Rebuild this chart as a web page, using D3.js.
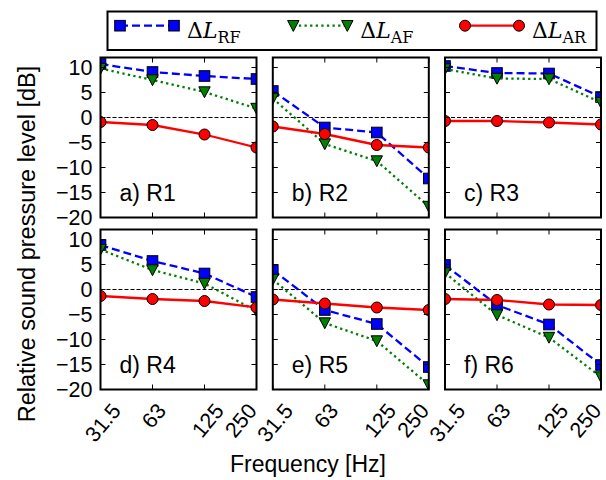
<!DOCTYPE html>
<html lang="en">
<head>
  <meta charset="UTF-8" />
  <title>Relative sound pressure level</title>
  <script src="https://d3js.org/d3.v7.min.js"></script>
  <style>
    body { margin: 0; background: #ffffff; }
    svg { display: block; font-family: 'Liberation Sans', Arial, sans-serif; }
  </style>
</head>
<body>
<div id="chart"></div>
<script>
// values
const freqs = ["31.5", "63", "125", "250"];
const panelLabels = ["a) R1", "b) R2", "c) R3", "d) R4", "e) R5", "f) R6"];
const yTicks = [-20, -15, -10, -5, 0, 5, 10];

const rfValues = [
  [10.7, 9.1, 8.3, 7.7],
  [5.3, -2.0, -3.0, -12.2],
  [10.3, 8.9, 8.8, 4.1],
  [8.9, 5.7, 3.2, -1.5],
  [3.9, -4.1, -6.9, -15.5],
  [4.9, -3.1, -7.0, -15.1]
];
const afValues = [
  [9.8, 7.5, 5.1, 1.8],
  [3.8, -5.3, -8.7, -17.8],
  [9.7, 7.8, 7.7, 3.0],
  [8.0, 3.9, 1.2, -4.3],
  [2.0, -6.7, -10.3, -19.1],
  [3.3, -5.1, -9.6, -17.5]
];
const arValues = [
  [-0.9, -1.5, -3.4, -6.0],
  [-1.8, -3.3, -5.5, -6.0],
  [-0.7, -0.7, -1.0, -1.4],
  [-1.3, -1.9, -2.3, -3.6],
  [-2.0, -2.8, -3.6, -4.1],
  [-1.9, -2.1, -3.0, -3.1]
];

const series = [
  { key: "RF", values: rfValues, color: "#0000ff", dash: "8,4", marker: "square" },
  { key: "AF", values: afValues, color: "#007f00", dash: "2.3,3.3", marker: "tri" },
  { key: "AR", values: arValues, color: "#ff0000", dash: null, marker: "circle" }
];

const W = 606, H = 480;
const colLeft = [100.5, 272.8, 445];
const rowTop = [57.5, 229.5];
const pw = 156, ph = 160;
const tickFont = 21.5, labelFont = 23;
// the last tick label sits a bit left of its tick in the reference
const tickShift = { "31.5": 2, "63": 1, "125": 3, "250": -16 };

const svg = d3.select("#chart").append("svg")
  .attr("width", W).attr("height", H);

const defs = svg.append("defs");

function drawMarker(g, type, x, y, color) {
  if (type === "square") {
    g.append("rect").attr("x", x - 5.3).attr("y", y - 5.3)
      .attr("width", 10.6).attr("height", 10.6)
      .attr("fill", color).attr("stroke", "#000").attr("stroke-width", 1);
  } else if (type === "tri") {
    g.append("path")
      .attr("d", `M${x - 5.7},${y - 5.2}L${x + 5.7},${y - 5.2}L${x},${y + 5.7}Z`)
      .attr("fill", color).attr("stroke", "#000").attr("stroke-width", 1);
  } else {
    g.append("circle").attr("cx", x).attr("cy", y).attr("r", 5.5)
      .attr("fill", color).attr("stroke", "#000").attr("stroke-width", 1);
  }
}

panelLabels.forEach((label, i) => {
  const row = Math.floor(i / 3), col = i % 3;
  const x0 = colLeft[col], y0 = rowTop[row];

  const x = d3.scalePoint().domain(freqs).range([x0, x0 + pw]).padding(0);
  const y = d3.scaleLinear().domain([-20, 12]).range([y0 + ph, y0]);

  const g = svg.append("g");

  defs.append("clipPath").attr("id", "clip" + i)
    .append("rect").attr("x", x0).attr("y", y0).attr("width", pw).attr("height", ph);

  const plot = g.append("g").attr("clip-path", `url(#clip${i})`);

  // zero reference line
  plot.append("line")
    .attr("x1", x0).attr("x2", x0 + pw)
    .attr("y1", y(0)).attr("y2", y(0))
    .attr("stroke", "#000").attr("stroke-width", 1)
    .attr("stroke-dasharray", "4,2");

  const line = d3.line().x((d, j) => x(freqs[j])).y(d => y(d));

  series.forEach(s => {
    const vals = s.values[i];
    plot.append("path")
      .attr("d", line(vals))
      .attr("fill", "none")
      .attr("stroke", s.color)
      .attr("stroke-width", 2.3)
      .attr("stroke-dasharray", s.dash);
    vals.forEach((v, j) => drawMarker(plot, s.marker, x(freqs[j]), y(v), s.color));
  });

  // inward ticks on all four sides
  const ticks = g.append("g").attr("stroke", "#000").attr("stroke-width", 1);
  yTicks.forEach(t => {
    ticks.append("line").attr("x1", x0).attr("x2", x0 + 5).attr("y1", y(t)).attr("y2", y(t));
    ticks.append("line").attr("x1", x0 + pw - 5).attr("x2", x0 + pw).attr("y1", y(t)).attr("y2", y(t));
  });
  freqs.forEach(f => {
    ticks.append("line").attr("x1", x(f)).attr("x2", x(f)).attr("y1", y0).attr("y2", y0 + 5);
    ticks.append("line").attr("x1", x(f)).attr("x2", x(f)).attr("y1", y0 + ph - 5).attr("y2", y0 + ph);
  });

  g.append("rect")
    .attr("x", x0).attr("y", y0).attr("width", pw).attr("height", ph)
    .attr("fill", "none").attr("stroke", "#000").attr("stroke-width", 2);

  g.append("text")
    .attr("x", x0 + 19).attr("y", y(-15) + 8)
    .attr("font-size", labelFont)
    .text(label);

  if (col === 0) {
    yTicks.forEach(t => {
      g.append("text")
        .attr("x", x0 - 8).attr("y", y(t)).attr("dy", "0.36em")
        .attr("text-anchor", "end")
        .attr("font-size", tickFont)
        .text(d3.format("")(t).replace("-", "\u2212"));
    });
  }

  if (row === 1) {
    const ang = 50 * Math.PI / 180;
    freqs.forEach(f => {
      const t = g.append("text")
        .attr("text-anchor", "middle").attr("dy", "0.36em")
        .attr("font-size", tickFont)
        .text(f);
      const w = t.node().getComputedTextLength();
      const hh = tickFont * 0.72;
      const cy = y0 + ph + 12 + (w * Math.sin(ang) + hh * Math.cos(ang)) / 2;
      t.attr("transform", `translate(${x(f) + tickShift[f]},${cy}) rotate(-50)`);
    });
  }
});

// axis labels
svg.append("text")
  .attr("x", 308).attr("y", 472)
  .attr("text-anchor", "middle")
  .attr("font-size", labelFont)
  .text("Frequency [Hz]");

svg.append("text")
  .attr("transform", "translate(35,244) rotate(-90)")
  .attr("text-anchor", "middle")
  .attr("font-size", 23.5)
  .text("Relative sound pressure level [dB]");

// legend
const legend = svg.append("g");
legend.append("rect")
  .attr("x", 107.5).attr("y", 11.5).attr("width", 489).attr("height", 38.5)
  .attr("fill", "#fff").attr("stroke", "#000").attr("stroke-width", 2);

const legX = [120, 293.3, 465];
const legY = 25.7;
series.forEach((s, k) => {
  const lx = legX[k];
  legend.append("line")
    .attr("x1", lx).attr("x2", lx + 54).attr("y1", legY).attr("y2", legY)
    .attr("stroke", s.color).attr("stroke-width", 2.3)
    .attr("stroke-dasharray", s.dash);
  drawMarker(legend, s.marker, lx, legY, s.color);
  drawMarker(legend, s.marker, lx + 54, legY, s.color);
  const t = legend.append("text")
    .attr("x", lx + 67).attr("y", 37.5)
    .attr("font-family", "'DejaVu Serif', 'Liberation Serif', serif")
    .attr("font-size", 22);
  t.append("tspan").text("\u0394");
  t.append("tspan").attr("font-style", "italic").text("L");
  t.append("tspan").attr("font-size", 16).attr("dy", 5.5).text(s.key);
});
</script>
</body>
</html>
